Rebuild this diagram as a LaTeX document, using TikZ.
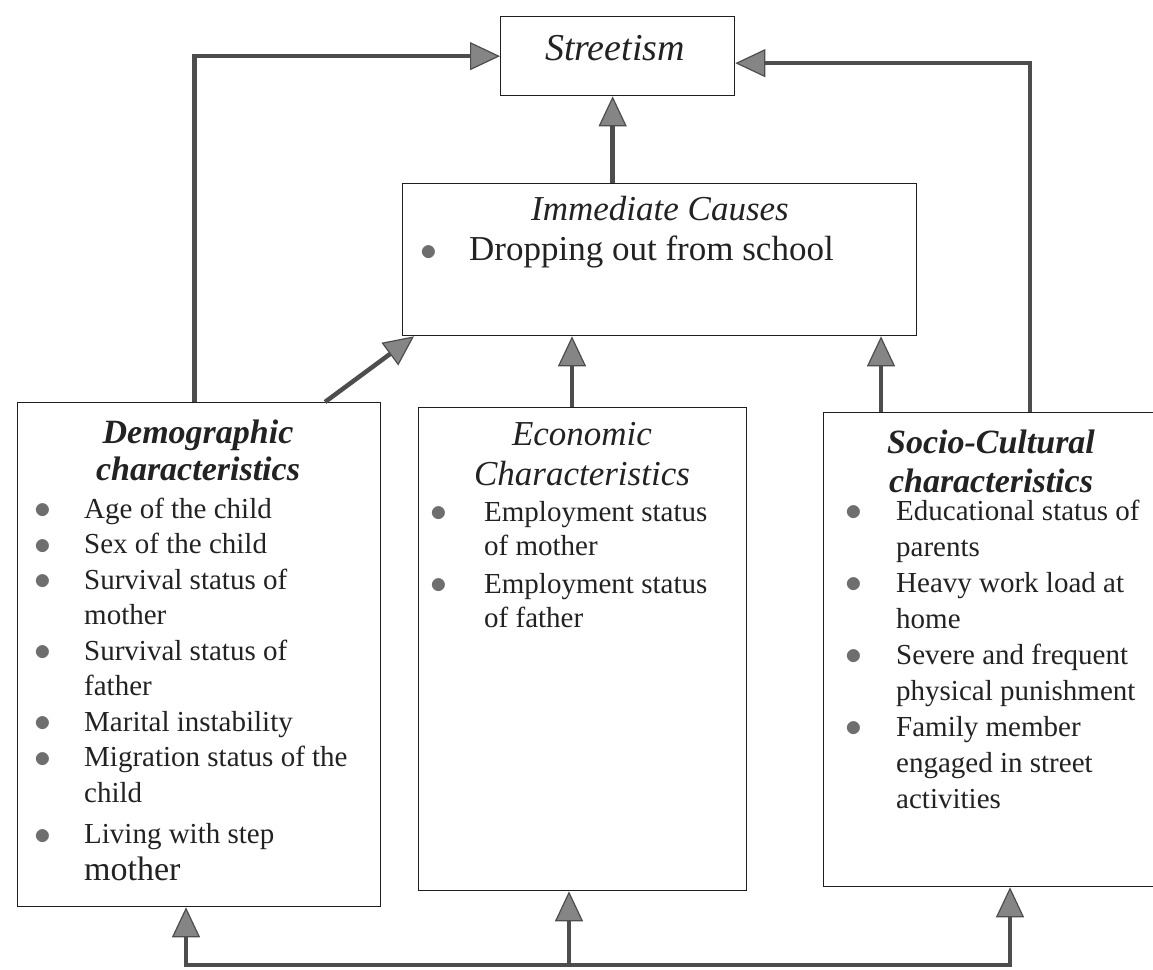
\documentclass[tikz,border=0pt]{standalone}
\usepackage{fontspec}
\setmainfont{Liberation Serif}
\usetikzlibrary{arrows.meta}
\definecolor{linegray}{HTML}{4D4D4D}
\definecolor{tipgray}{HTML}{858585}
\definecolor{bulgray}{HTML}{6E6E6E}
\definecolor{txt}{HTML}{222222}
\definecolor{boxline}{HTML}{1E1E1E}
\newcommand{\bul}{\raisebox{-0.5pt}{\scalebox{1.35}{\textcolor{bulgray}{$\bullet$}}}}
\begin{document}
\begin{tikzpicture}[x=1pt,y=-1pt,
  box/.style={draw=boxline, line width=1.3pt, anchor=north west, inner sep=0pt},
  conn/.style={draw=linegray, line width=4.5pt, -{Triangle[length=30pt,width=28pt,line width=1.2pt,fill=tipgray]}},
  lbl/.style={inner sep=0pt, text=txt},
]
\clip (0,0) rectangle (1153,969);
\fill[white] (0,0) rectangle (1153,969);

% boxes
\node[box, minimum width=234pt, minimum height=79pt] (street) at (500,16) {};
\node[box, minimum width=514pt, minimum height=152pt] (imm) at (402,183) {};
\node[box, minimum width=363pt, minimum height=504pt] (demo) at (17,402) {};
\node[box, minimum width=328pt, minimum height=483pt] (econ) at (418,407) {};
\node[box, minimum width=345pt, minimum height=474pt] (socio) at (823,412) {};

% texts
\node[lbl, anchor=base] (streetT) at (615,60) {\fontsize{38}{40}\selectfont\itshape Streetism};

\node[lbl, anchor=base] (immT) at (660,220) {\fontsize{35}{38}\selectfont\itshape Immediate Causes};
\node[lbl, anchor=base west] (immL) at (420,260) {\fontsize{35}{38}\selectfont
  \begin{tabular}[t]{@{}p{49pt}@{}l@{}}\bul & Dropping out from school\end{tabular}};

\node[lbl, anchor=base] (demoT) at (198,443) {\fontsize{34}{37}\selectfont\bfseries\itshape
  \begin{tabular}[t]{@{}c@{}}Demographic\\characteristics\end{tabular}};
\node[lbl, anchor=base west] (demoL) at (34,518) {\fontsize{29}{35.5}\selectfont
  \begin{tabular}[t]{@{}p{50pt}@{}l@{}}
  \bul & Age of the child\\
  \bul & Sex of the child\\
  \bul & Survival status of\\
       & mother\\
  \bul & Survival status of\\
       & father\\
  \bul & Marital instability\\
  \bul & Migration status of the\\
       & child\\[6pt]
  \bul & Living with step\\[1pt]
       & {\fontsize{34}{35}\selectfont mother}
  \end{tabular}};

\node[lbl, anchor=base] (econT) at (582,445) {\fontsize{35}{40}\selectfont\itshape
  \begin{tabular}[t]{@{}c@{}}Economic\\Characteristics\end{tabular}};
\node[lbl, anchor=base west] (econL) at (430,521) {\fontsize{29}{34}\selectfont
  \begin{tabular}[t]{@{}p{54pt}@{}l@{}}
  \bul & Employment status\\
       & of mother\\[4pt]
  \bul & Employment status\\
       & of father
  \end{tabular}};

\node[lbl, anchor=base] (socioT) at (991,453) {\fontsize{34}{39}\selectfont\bfseries\itshape
  \begin{tabular}[t]{@{}c@{}}Socio-Cultural\\characteristics\end{tabular}};
\node[lbl, anchor=base west] (socioL) at (845,520) {\fontsize{29}{36}\selectfont
  \begin{tabular}[t]{@{}p{51pt}@{}l@{}}
  \bul & Educational status of\\
       & parents\\
  \bul & Heavy work load at\\
       & home\\
  \bul & Severe and frequent\\
       & physical punishment\\
  \bul & Family member\\
       & engaged in street\\
       & activities
  \end{tabular}};

% connectors to Streetism
\draw[conn] ([xshift=-4.5pt]demo.north) |- (street.west);
\draw[conn] ([xshift=207pt]socio.north west) |- ([yshift=-7pt]street.east);
\draw[conn] ([xshift=-47pt]imm.north) -- ([xshift=-47pt]imm.north |- street.south);

% connectors to Immediate Causes
\draw[conn] ([xshift=308pt]demo.north west) -- ([xshift=12pt]imm.south west);
\draw[conn] ([xshift=154pt]econ.north west) -- ([xshift=154pt]econ.north west |- imm.south);
\draw[conn] ([xshift=58pt]socio.north west) -- ([xshift=58pt]socio.north west |- imm.south);

% bottom feedback
\coordinate (bL) at (186,965);
\coordinate (bM) at (569,965);
\coordinate (bR) at (1010,965);
\draw[conn, line cap=rect] (bR) -- (bL) -- (bL |- demo.south);
\draw[conn] (bM) -- (bM |- econ.south);
\draw[conn] (bR) -- (bR |- socio.south);
\end{tikzpicture}
\end{document}
